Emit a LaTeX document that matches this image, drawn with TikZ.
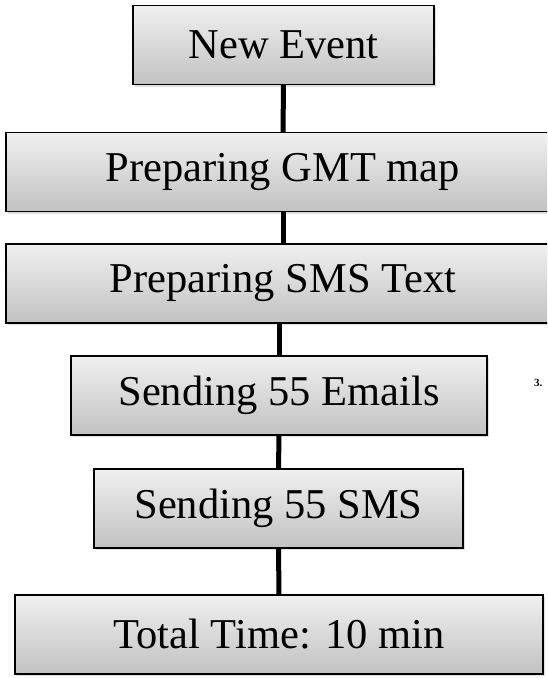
\documentclass[tikz,border=0pt]{standalone}
\usepackage{fontspec}
\setmainfont{Liberation Serif}
\usetikzlibrary{shadows}

\begin{document}
\begin{tikzpicture}[x=1pt,y=-1pt,-,line join=miter,
  box node/.style={rectangle,draw=black,line width=1.4pt,
    top color=gray!12,bottom color=gray!48,
    drop shadow={shadow xshift=1.5pt,shadow yshift=-2pt,opacity=.25},
    minimum height=79pt,inner sep=0pt,font=\fontsize{42.5}{44}\selectfont},
  link/.style={line width=5pt,black}]

  \clip (0,0) rectangle (547,678);
  \useasboundingbox (0,0) rectangle (547,678);

  \node[box node,minimum width=301pt] (1) at (283.5,45) {New Event};
  \node[box node,minimum width=554pt] (2) at (283,172) {Preparing GMT map};
  \node[box node,minimum width=554pt] (3) at (283,283.5) {Preparing SMS Text};
  \node[box node,minimum width=416pt] (4) at (279,395.5) {Sending 55 Emails};
  \node[box node,minimum width=369pt] (5) at (278.5,508.5) {Sending 55 SMS};
  \node[box node,minimum width=528pt] (6) at (279,634.5) {Total Time: 10 min};

  \node[anchor=west,inner sep=0pt,font=\fontsize{11}{12}\selectfont\bfseries]
    (note) at (534,383) {3.};

  \path[link]
    (1) edge (2)
    (2) edge (3)
    (3.south -| 4.north) edge (4)
    (4) edge (5)
    (5) edge (6);
\end{tikzpicture}
\end{document}
